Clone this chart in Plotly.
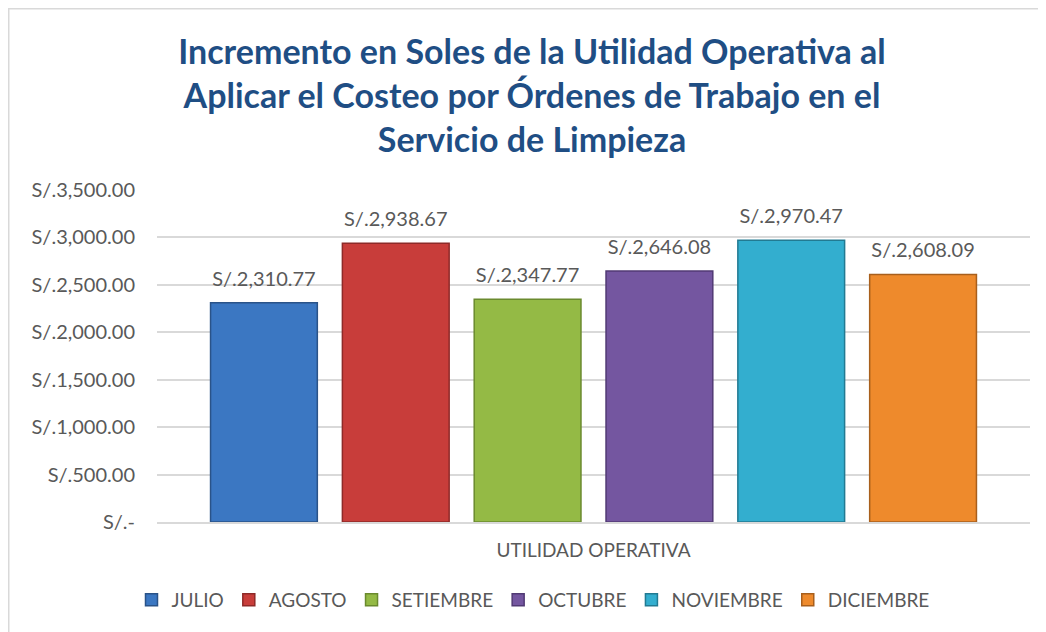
import plotly.graph_objects as go

categories = ["UTILIDAD OPERATIVA"]
months = ["JULIO", "AGOSTO", "SETIEMBRE", "OCTUBRE", "NOVIEMBRE", "DICIEMBRE"]
values = [2310.77, 2938.67, 2347.77, 2646.08, 2970.47, 2608.09]
colors = ["#3B77C2", "#C83D3A", "#94BA45", "#7456A0", "#33AECF", "#EE8A2C"]
edges = ["#2A5388", "#8E2A28", "#6A8A2E", "#513A74", "#227A92", "#A85F1C"]
tick_vals = [0, 500, 1000, 1500, 2000, 2500, 3000, 3500]
tick_text = ["S/.-", "S/.500.00", "S/.1,000.00", "S/.1,500.00", "S/.2,000.00",
             "S/.2,500.00", "S/.3,000.00", "S/.3,500.00"]

FONT = "Lato, 'Open Sans', sans-serif"
GRAY = "#595959"
OFF = 8  # page body margin
GAP = 0.094

fig = go.Figure()
for m, v, c, e in zip(months, values, colors, edges):
    fig.add_trace(go.Bar(
        name=m, x=categories, y=[v], offsetgroup=m,
        marker=dict(color=c, line=dict(color=e, width=1.5)),
        cliponaxis=False,
    ))
for m, v in zip(months, values):
    fig.add_trace(go.Scatter(
        x=categories, y=[v], offsetgroup=m, mode="markers+text",
        marker=dict(size=18, opacity=0),
        text=["S/.{:,.2f}".format(v)], textposition="top center",
        textfont=dict(family=FONT, size=20, color=GRAY),
        showlegend=False, cliponaxis=False, hoverinfo="skip",
    ))

# target page-pixel positions of the plot area
L, R, T, B = 157 - OFF, 1046 - (1030 - OFF), 190 - OFF, 632 - (522 - OFF)
W = 1046 - L - R
H = 632 - T - B
px = lambda x: (x - OFF - L) / W
py = lambda y: (632 - B - (y - OFF)) / H

fig.update_layout(
    width=1046, height=632,
    margin=dict(l=L, r=R, t=T, b=B, autoexpand=False),
    paper_bgcolor="white", plot_bgcolor="white",
    barmode="group", bargap=GAP, bargroupgap=0.19,
    scattermode="group", scattergap=GAP,
    title=dict(
        text="Incremento en Soles de la Utilidad Operativa al<br>Aplicar el Costeo por Órdenes de Trabajo en el<br>Servicio de Limpieza",
        x=(532 - OFF) / 1046, xanchor="center", xref="container",
        y=1 - 56 / 632, yanchor="top", yref="container",
        font=dict(family=FONT, size=34, color="#1F4E84", weight="bold"),
    ),
    font=dict(family=FONT, color=GRAY),
    yaxis=dict(
        range=[0, 3500], tickvals=tick_vals, ticktext=tick_text,
        showgrid=True, gridcolor="#D9D9D9", gridwidth=1.5,
        zeroline=False, showline=False,
        tickfont=dict(family=FONT, size=20, color=GRAY),
        ticklabelstandoff=21,
    ),
    xaxis=dict(
        range=[-0.5, 0.5],
        showline=True, linecolor="#D9D9D9", linewidth=1.5,
        tickfont=dict(family=FONT, size=19, color=GRAY),
        ticks="", ticklabelstandoff=10,
    ),
    legend=dict(
        orientation="h", x=px(533), xref="paper", xanchor="center",
        y=py(600), yanchor="middle",
        font=dict(family=FONT, size=19, color=GRAY),
        itemclick=False,
    ),
    shapes=[
        dict(type="line", xref="paper", yref="paper", x0=px(8), x1=px(1080),
             y0=py(8), y1=py(8), line=dict(color="#D9D9D9", width=3)),
        dict(type="line", xref="paper", yref="paper", x0=px(8), x1=px(8),
             y0=py(8), y1=py(680), line=dict(color="#D9D9D9", width=3)),
    ],
)

fig.write_html("out.html")
